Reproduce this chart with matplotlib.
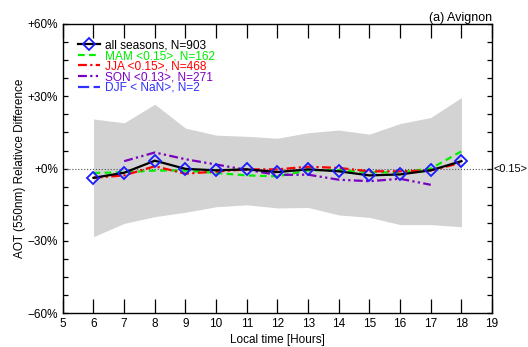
import numpy as np
import matplotlib
matplotlib.use('Agg')
import matplotlib.pyplot as plt
from matplotlib import transforms

plt.rcParams['font.family'] = ['Liberation Sans', 'DejaVu Sans']

hours = [6, 7, 8, 9, 10, 11, 12, 13, 14, 15, 16, 17, 18]

# spread band (all seasons)
band_hi = [20.6, 19.0, 26.7, 16.8, 13.9, 13.4, 12.6, 14.9, 16.0, 14.3, 18.7, 21.2, 29.5]
band_lo = [-28.2, -22.7, -19.9, -18.1, -15.8, -15.0, -16.3, -16.1, -19.2, -20.2, -23.2, -23.2, -24.1]

all_seasons = [-3.8, -1.7, 3.3, -0.1, -0.7, -0.3, -1.4, -0.3, -1.1, -2.8, -2.4, -0.7, 3.1]
mam = [-1.8, -1.5, -0.8, -0.8, -1.8, -2.8, -3.2, -0.7, -0.6, -1.5, -1.5, 0.0, 7.2]
jja = [-3.8, -2.8, 1.0, -2.1, -1.2, -0.3, -0.3, 0.8, 0.3, -1.1, -1.1, -0.7, 2.4]
son = [np.nan, 3.1, 6.7, 3.9, 1.7, -0.5, -2.6, -2.5, -4.6, -5.2, -4.2, -6.7, np.nan]
djf = [np.nan] * 13

labels = ['all seasons, N=903', 'MAM <0.15>, N=162', 'JJA <0.15>, N=468',
          'SON <0.13>, N=271', 'DJF < NaN>, N=2']

fig = plt.figure(figsize=(5.28, 3.47), dpi=100)
ax = fig.add_axes([0.119, 0.097, 0.813, 0.834])

ax.fill_between(hours, band_lo, band_hi, color='#d3d3d3', lw=0, zorder=1)
ax.axhline(0, color='#555555', ls=':', lw=0.8, zorder=2)

l_mam, = ax.plot(hours, mam, color='#00ee00', ls=(0, (3, 2)), lw=1.6, zorder=3)
l_jja, = ax.plot(hours, jja, color='#ff0000', ls=(0, (4, 1.5, 1, 1.5)), lw=1.6, zorder=3)
l_son, = ax.plot(hours, son, color='#7a00c0', ls=(0, (4, 1.5, 1, 1.5, 1, 1.5)), lw=1.6, zorder=3)
l_djf, = ax.plot(hours, djf, color='#3030ff', ls=(0, (5, 2)), lw=1.6, zorder=3)
l_all, = ax.plot(hours, all_seasons, color='black', lw=1.6, marker='D', ms=6.5,
                 mfc='none', mec='#1a1aff', mew=1.3, zorder=4)

leg = ax.legend([l_all, l_mam, l_jja, l_son, l_djf], labels, loc='upper left',
                bbox_to_anchor=(0.015, 0.975), frameon=False, fontsize=8.6,
                handlelength=1.9, handletextpad=0.4, labelspacing=-0.12,
                borderaxespad=0.3)
for txt, c in zip(leg.get_texts(), ['black', '#00ee00', '#ff0000', '#7a00c0', '#3030ff']):
    txt.set_color(c)

ax.set_xlim(5, 19)
ax.set_ylim(-60, 60)
ax.set_xticks(range(5, 20))
ax.set_yticks([-60, -30, 0, 30, 60])
ax.set_yticklabels(['\u221260%', '\u221230%', '+0%', '+30%', '+60%'])
ax.set_yticks(np.arange(-60, 61, 7.5), minor=True)
ax.tick_params(axis='x', direction='in', length=10, width=0.9, top=True, labelsize=8.5)
ax.tick_params(axis='y', which='both', direction='in', length=3.8, width=0.9,
               right=True, labelsize=8.5)
for s in ax.spines.values():
    s.set_linewidth(1.0)

ax.set_xlabel('Local time [Hours]', fontsize=8.5, labelpad=3)
ax.set_ylabel('AOT (550nm) Relativce Difference', fontsize=8.5, labelpad=1)
ax.set_title('(a) Avignon', loc='right', fontsize=9, pad=2)

trans = transforms.blended_transform_factory(ax.transAxes, ax.transData)
ax.text(1.004, 0, '<0.15>', transform=trans, fontsize=7.8, va='center', ha='left')

fig.savefig('out.png', dpi=100)
